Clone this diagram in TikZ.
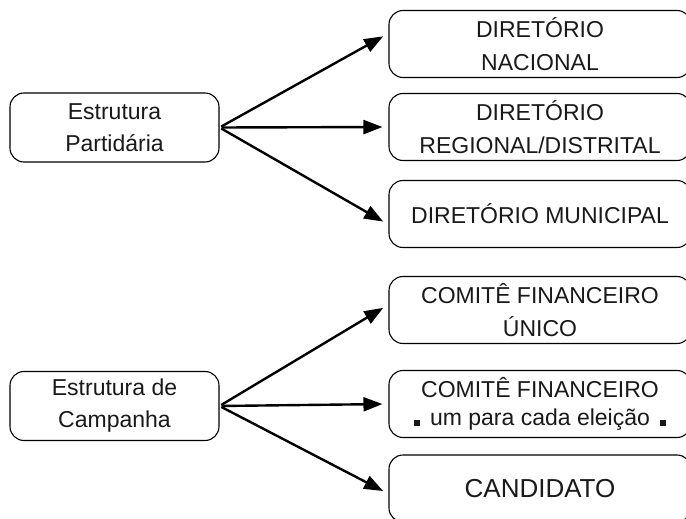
\documentclass[tikz,border=0pt]{standalone}
\usepackage{fontspec}
\setmainfont{Liberation Sans}
\usetikzlibrary{arrows.meta}
\newcommand{\quadradinho}{\rule{6pt}{6pt}}
\begin{document}
\begin{tikzpicture}[x=1pt,y=-1pt,
  caixa/.style={draw,line width=1.1pt,rounded corners=14pt,align=center,inner sep=0pt,
    text=black!90,font=\fontsize{23}{33}\selectfont},
  destino/.style={caixa,minimum width=302pt,minimum height=67pt},
  origem/.style={caixa,minimum width=209pt,minimum height=69pt,font=\fontsize{23}{32}\selectfont},
  seta/.style={line width=2.4pt,-{Triangle[length=19pt,width=14pt]},shorten >=6pt,shorten <=2pt}]
\clip (0,0) rectangle (686,519);
% estruturas
\node[origem] (part) at (114.5,127.5) {Estrutura\\Partidária};
\node[origem] (camp) at (114.5,406) {Estrutura de\\Campanha};
% diretorios
\node[destino] (nac) at (540,44) {DIRETÓRIO\\NACIONAL};
\node[destino] (reg) at (540,127) {DIRETÓRIO\\REGIONAL/DISTRITAL};
\node[destino] (mun) at (540,214) {DIRETÓRIO MUNICIPAL};
% campanha
\node[destino] (unico) at (540,310) {COMITÊ FINANCEIRO\\ÚNICO};
\node[destino] (cada) at (540,404) {COMITÊ FINANCEIRO\\[-5pt]\quadradinho\hspace{10pt}um para cada eleição\hspace{10pt}\quadradinho};
\node[destino,font=\fontsize{26}{30}\selectfont] (cand) at (540,488.5) {CANDIDATO};
% setas
\draw[seta] (part.east) -- (nac.176);
\draw[seta] (part.east) -- (reg.west);
\draw[seta] (part.east) -- (mun.184);
\draw[seta] (camp.east) -- (unico.178);
\draw[seta] (camp.east) -- (cada.west);
\draw[seta] (camp.east) -- (cand.182);
\end{tikzpicture}
\end{document}
